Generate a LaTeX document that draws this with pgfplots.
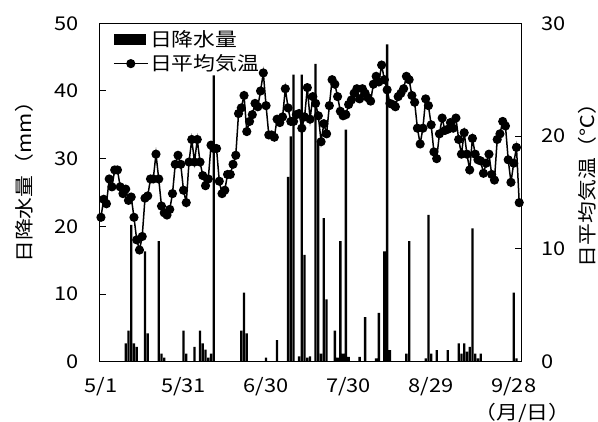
\documentclass[border=0pt]{standalone}
\usepackage{pgfplots}
\pgfplotsset{compat=1.18}
\usepackage{fontspec}
\setmainfont{Noto Sans CJK JP}[FakeStretch=1.15]
\newcommand\ff{\fontsize{19}{23}\selectfont}
\pgfplotstableread{
day mm
9 2.7
10 4.6
11 20.2
12 2.7
13 2.2
16 16.3
17 4.2
21 17.8
22 1.2
23 0.6
30 4.6
31 1.2
34 2.2
36 4.6
37 2.7
38 1.8
39 0.6
40 1.2
41 42.3
51 4.6
52 10.2
53 4.2
60 0.6
64 3.2
68 27.3
69 33.3
70 42.4
72 0.8
73 42.4
74 15.8
75 0.6
76 0.8
78 44.0
79 32.8
80 1.2
81 21.2
82 9.2
85 4.6
86 0.6
87 17.8
88 1.2
89 34.3
90 0.7
94 0.7
96 6.6
100 0.5
101 7.2
103 16.3
104 46.9
105 1.7
111 1.2
112 17.8
118 0.5
119 21.7
120 1.2
122 1.7
126 1.7
130 2.7
131 1.2
132 2.7
133 1.5
134 2.2
135 19.7
136 1.2
137 0.5
138 1.2
150 10.2
151 0.5
}\rain
\pgfplotstableread{
day t
0 12.8
1 14.4
2 14.0
3 16.2
4 15.5
5 17.0
6 17.0
7 15.5
8 14.9
9 15.3
10 14.3
11 14.6
12 12.8
13 10.8
14 9.9
15 11.1
16 14.5
17 14.7
18 16.2
19 16.2
20 18.4
21 16.2
22 13.8
23 13.2
24 13.0
25 13.5
26 14.9
27 17.5
28 18.3
29 17.5
30 15.2
31 14.1
32 17.7
33 19.7
34 17.7
35 19.7
36 17.7
37 16.5
38 15.6
39 16.2
40 19.2
41 18.9
42 18.9
43 16.0
44 14.9
45 15.2
46 16.6
47 16.6
48 17.5
49 18.3
50 22.0
51 22.5
52 23.6
53 20.4
54 21.3
55 21.9
56 22.9
57 22.6
58 24.0
59 25.6
60 22.7
61 20.1
62 20.1
63 19.9
64 21.5
65 21.2
66 21.7
67 24.2
68 22.5
69 21.3
70 21.3
71 21.9
72 22.0
73 20.7
74 21.7
75 24.3
76 21.5
77 23.5
78 22.9
79 21.8
80 19.5
81 21.1
82 20.2
83 22.7
84 25.0
85 24.6
86 23.5
87 22.2
88 21.8
89 21.9
90 22.8
91 23.2
92 23.8
93 24.2
94 23.3
95 24.2
96 23.8
97 23.4
98 23.1
99 24.6
100 25.3
101 24.8
102 26.3
103 25.0
104 24.1
105 22.9
106 22.8
107 22.6
108 23.5
109 23.8
110 24.2
111 25.3
112 25.0
113 23.6
114 23.0
115 20.7
116 19.3
117 20.7
118 23.3
119 22.7
120 21.0
121 18.6
122 18.0
123 20.2
124 21.6
125 20.5
126 20.6
127 21.2
128 20.7
129 21.6
130 19.7
131 18.4
132 20.3
133 18.4
134 17.0
135 19.8
136 18.4
137 17.9
138 17.8
139 16.7
140 17.6
141 18.4
142 16.6
143 16.1
144 19.7
145 20.2
146 21.3
147 20.9
148 17.9
149 15.9
150 17.6
151 19.0
152 14.1
}\temp
\begin{document}
\ff
\begin{tikzpicture}
\useasboundingbox (-99.3pt,-60.3pt) rectangle (498.7pt,361.7pt);
\begin{axis}[
  at={(0pt,0pt)}, anchor=south west,
  scale only axis, width=422.4pt, height=338.4pt,
  xmin=-0.6, xmax=152.9, ymin=0, ymax=50,
  ytick={0,10,20,30,40,50}, ytick pos=left,
  xtick={0,30,60,90,120,150},
  xticklabels={5/1,5/31,6/30,7/30,8/29,9/28},
  x tick style={draw=none},
  major tick length=7pt,
  y tick style={black, line width=1pt},
  axis line style={line width=1pt},
  tick label style={font=\ff},
  label style={font=\ff},
  yticklabel style={xshift=-14pt},
  xticklabel style={yshift=-9pt},
  /pgf/number format/assume math mode=true,
  ylabel={日降水量（mm）},
  ylabel style={at={(rel axis cs:-0.178,0.546)}, anchor=center, rotate=0},
  xlabel={（月/日）},
  xlabel style={at={(rel axis cs:1.002,-0.153)}, anchor=center},
  legend style={at={(rel axis cs:0.025,0.99)}, anchor=north west, draw=none, fill=none,
    font=\ff, row sep=2pt, nodes={inner sep=1.5pt}},
  legend cell align=left,
]
\addplot[ybar, bar width=2.3pt, bar shift=0pt, fill=black, draw=none,
  legend image code/.code={\fill[black] (0pt,-5.5pt) rectangle (32pt,5.5pt);}]
  table[x=day, y=mm] {\rain};
\addlegendentry{日降水量}
\addlegendimage{black, line width=1.5pt,
  legend image code/.code={\draw[black, line width=1.5pt] (0pt,0pt) -- (34pt,0pt); \fill[black] (17pt,0pt) circle (3.8pt);}}
\addlegendentry{日平均気温}
\end{axis}
\begin{axis}[
  at={(0pt,0pt)}, anchor=south west,
  scale only axis, width=422.4pt, height=338.4pt,
  xmin=-0.6, xmax=152.9, ymin=0, ymax=30,
  axis x line=none, axis y line*=right,
  axis line style={-, line width=1pt},
  ytick={0,10,20,30},
  major tick length=7pt,
  y tick style={black, line width=1pt},
  tick label style={font=\ff},
  label style={font=\ff},
  yticklabel style={xshift=13pt},
  /pgf/number format/assume math mode=true,
  ylabel={日平均気温（℃）},
  ylabel style={at={(rel axis cs:1.155,0.537)}, anchor=center, rotate=0},
]
\addplot[black, line width=1.5pt, mark=*, mark size=3.8pt] table[x=day, y=t] {\temp};
\end{axis}
\end{tikzpicture}
\end{document}
